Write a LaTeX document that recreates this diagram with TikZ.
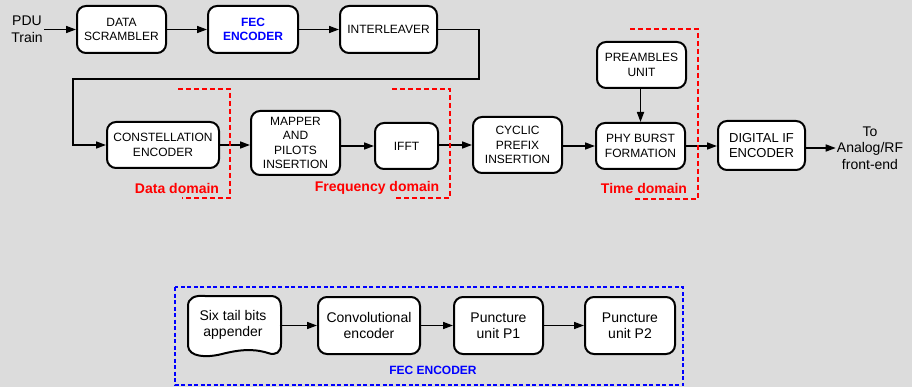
\documentclass[tikz,border=0pt]{standalone}
\usepackage{fontspec}
\setmainfont{Liberation Sans}
\usetikzlibrary{arrows.meta}
\definecolor{bg}{RGB}{220,220,220}
\definecolor{domred}{RGB}{255,0,0}
\definecolor{fecblue}{RGB}{0,0,255}
\begin{document}
\begin{tikzpicture}[x=1pt,y=-1pt,
  blk/.style={draw=black, fill=white, line width=2pt, rounded corners=9pt,
    align=center, inner sep=1pt, font=\fontsize{12}{14.5}\selectfont},
  subblk/.style={blk, font=\fontsize{14}{16}\selectfont},
  flow/.style={line width=1.6pt, -{Triangle[length=10pt,width=7pt]}},
  dombracket/.style={draw=domred, line width=2.2pt, dash pattern=on 5pt off 3pt},
  domlabel/.style={text=domred, font=\fontsize{14}{16}\selectfont\bfseries},
  plain/.style={align=center, inner sep=1pt, font=\fontsize{14}{16.5}\selectfont}]
\fill[bg] (0,0) rectangle (912,387);
\useasboundingbox (0,0) rectangle (912,387);

% transmitter chain, first row
\node[plain] (pdu) at (27,29.5) {PDU\\Train};
\node[blk, minimum width=89pt, minimum height=47pt] (scr) at (121.5,29.5) {DATA\\SCRAMBLER};
\node[blk, minimum width=90pt, minimum height=47pt, text=fecblue, font=\fontsize{12}{14.5}\selectfont\bfseries] (fec) at (253,29.5) {FEC\\ENCODER};
\node[blk, minimum width=97pt, minimum height=47pt] (intl) at (388.5,29.5) {INTERLEAVER};

% second row
\node[blk, minimum width=112pt, minimum height=46pt] (const) at (163,145) {CONSTELLATION\\ENCODER};
\node[blk, minimum width=89pt, minimum height=64pt] (map) at (295.5,143) {MAPPER\\AND\\PILOTS\\INSERTION};
\node[blk, minimum width=63pt, minimum height=46pt] (ifft) at (406.5,146) {IFFT};
\node[blk, minimum width=89pt, minimum height=56pt] (cp) at (517.5,145) {CYCLIC\\PREFIX\\INSERTION};
\node[blk, minimum width=89pt, minimum height=46pt] (phy) at (640.5,146) {PHY BURST\\FORMATION};
\node[blk, minimum width=89pt, minimum height=46pt] (pre) at (641.5,65) {PREAMBLES\\UNIT};
\node[blk, minimum width=87pt, minimum height=49pt, font=\fontsize{13}{15.5}\selectfont] (dig) at (761.5,145.5) {DIGITAL IF\\ENCODER};
\node[plain] (out) at (870,148) {To\\Analog/RF\\front-end};

% connectors
\draw[flow] (pdu.east |- scr.west) -- (scr.west);
\draw[flow] (scr.east) -- (fec.west);
\draw[flow] (fec.east) -- (intl.west);
\coordinate (r1) at (479,79);
\coordinate (r2) at (73,79);
\draw[flow] (intl.east) -| (r1) -- (r2) |- (const.west);
\draw[flow] (const.east) -- (const.east -| map.west);
\draw[flow] (map.east |- ifft.west) -- (ifft.west);
\draw[flow] (ifft.east |- cp.west) -- (cp.west);
\draw[flow] (cp.east |- phy.west) -- (phy.west);
\draw[flow] (pre.south -| phy.north) -- (phy.north);
\draw[flow] (phy.east) -- (phy.east -| dig.west);
\draw[flow] (dig.east |- out.west) -- (out.west);

% processing domains
\draw[dombracket] (178,89) -- (230,89) -- (230,198) -- (182,198);
\draw[dombracket] (392,89) -- (450,89) -- (450,198) -- (394,198);
\draw[dombracket] (630,29) -- (698,29) -- (698,199) -- (633,199);
\node[domlabel] (dd) at (177,188) {Data domain};
\node[domlabel] (fd) at (377,188) {Frequency domain};
\node[domlabel] (td) at (644,188) {Time domain};

% FEC encoder detail
\draw[draw=fecblue, line width=1.6pt, dash pattern=on 4pt off 2.5pt] (175,287) rectangle (683,385);
\node[text=fecblue, font=\fontsize{12}{14}\selectfont\bfseries] (feclabel) at (433,370) {FEC ENCODER};

\draw[line width=2pt, fill=white]
  (188,306) .. controls (188,298) and (195,295) .. (205,296)
  -- (270,296) .. controls (278,296) and (281,300) .. (281,307)
  -- (281,344) .. controls (281,352) and (276,356) .. (268,353)
  .. controls (252,348) and (238,350) .. (222,354)
  .. controls (206,358) and (189,357) .. (188,346) -- cycle;
\node[align=center, font=\fontsize{14}{16}\selectfont, minimum width=93pt, minimum height=57pt, inner sep=1pt] (six) at (233,325) {Six tail bits\\appender};
\node[subblk, minimum width=102pt, minimum height=57pt] (conv) at (369,325.5) {Convolutional\\encoder};
\node[subblk, minimum width=89pt, minimum height=57pt] (p1) at (498.5,325.5) {Puncture\\unit P1};
\node[subblk, minimum width=90pt, minimum height=57pt] (p2) at (630,325.5) {Puncture\\unit P2};
\draw[flow] (six.east |- conv.west) -- (conv.west);
\draw[flow] (conv.east) -- (p1.west);
\draw[flow] (p1.east) -- (p2.west);
\end{tikzpicture}
\end{document}
